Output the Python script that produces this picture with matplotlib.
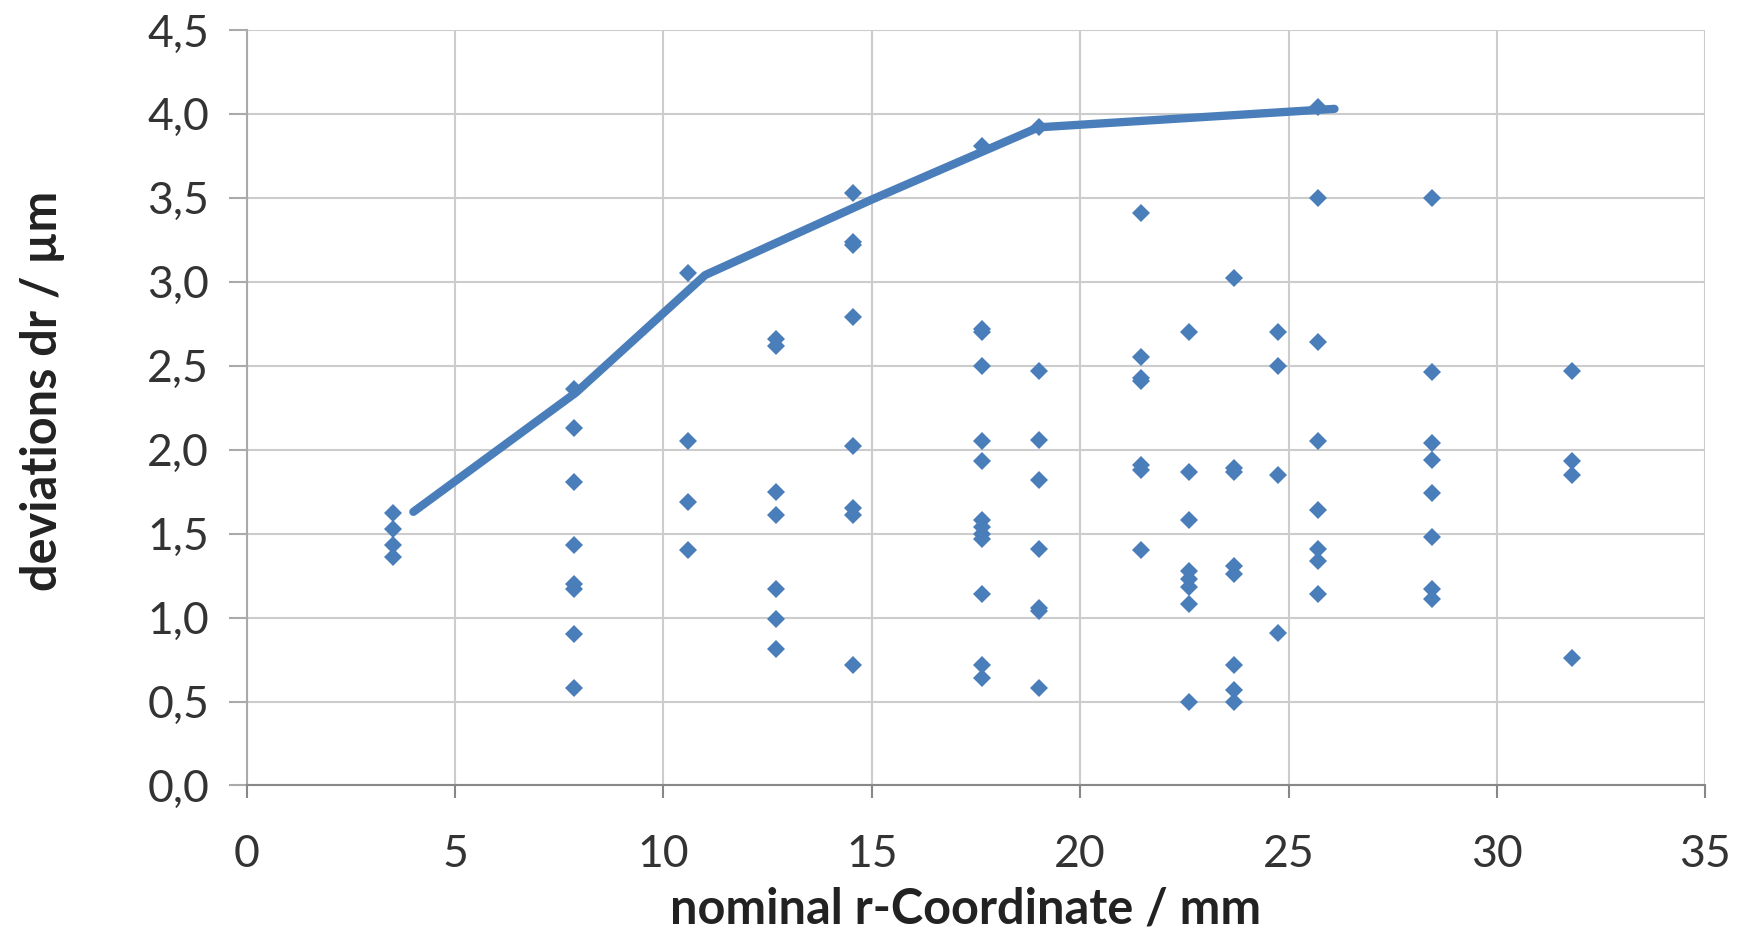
import numpy as np
import matplotlib.pyplot as plt

# measured deviations, grouped by nominal r position (mm)
r_cols = [3.5, 7.85, 10.6, 12.7, 14.55, 17.65, 19.0, 21.45, 22.6, 23.7, 24.75, 25.7, 28.45, 31.8]
dr_cols = [
    [1.62, 1.53, 1.43, 1.36],
    [2.36, 2.13, 1.81, 1.43, 1.20, 1.17, 0.90, 0.58],
    [3.05, 2.05, 1.69, 1.40],
    [2.66, 2.62, 1.75, 1.61, 1.17, 0.99, 0.81],
    [3.53, 3.24, 3.22, 2.79, 2.02, 1.65, 1.61, 0.72],
    [3.81, 2.72, 2.70, 2.50, 2.05, 1.93, 1.58, 1.54, 1.50, 1.47, 1.14, 0.72, 0.64],
    [3.92, 2.47, 2.06, 1.82, 1.41, 1.06, 1.04, 0.58],
    [3.41, 2.55, 2.43, 2.41, 1.91, 1.88, 1.40],
    [2.70, 1.87, 1.58, 1.28, 1.23, 1.18, 1.08, 0.50],
    [3.02, 1.89, 1.87, 1.31, 1.26, 0.72, 0.57, 0.50],
    [2.70, 2.50, 1.85, 0.91],
    [4.04, 3.50, 2.64, 2.05, 1.64, 1.41, 1.34, 1.14],
    [3.50, 2.46, 2.04, 1.94, 1.74, 1.48, 1.17, 1.11],
    [2.47, 1.93, 1.85, 0.76],
]

# upper envelope line
env_r = [4.0, 7.9, 11.0, 15.0, 19.0, 26.1]
env_dr = [1.63, 2.34, 3.04, 3.49, 3.92, 4.03]

x_ticks = [0, 5, 10, 15, 20, 25, 30, 35]
y_ticks = [0.0, 0.5, 1.0, 1.5, 2.0, 2.5, 3.0, 3.5, 4.0, 4.5]

blue = '#4A7EBB'
plt.rcParams['font.family'] = ['Lato', 'DejaVu Sans']

r_pts = np.concatenate([[r] * len(d) for r, d in zip(r_cols, dr_cols)])
dr_pts = np.concatenate(dr_cols)

fig = plt.figure(figsize=(17.42, 9.36), dpi=100)
ax = fig.add_axes([0.1416, 0.1608, 0.8374, 0.8072])

ax.plot(r_pts, dr_pts, linestyle='none', marker='D', markersize=9,
        color=blue, markeredgewidth=0, zorder=3)
ax.plot(env_r, env_dr, color=blue, linewidth=6, solid_capstyle='round',
        solid_joinstyle='round', zorder=4)

ax.set_xlim(0, 35)
ax.set_ylim(0, 4.5)
ax.set_xticks(x_ticks)
ax.set_yticks(y_ticks)
ax.set_xticklabels([str(t) for t in x_ticks])
ax.set_yticklabels([f'{t:.1f}'.replace('.', ',') for t in y_ticks])

ax.grid(True, color='#CCCCCC', linewidth=1.5)
ax.set_axisbelow(True)
for s in ['top', 'right']:
    ax.spines[s].set_visible(False)
ax.spines['left'].set_color('#AAAAAA')
ax.spines['bottom'].set_color('#888888')
ax.spines['left'].set_linewidth(1.5)
ax.spines['bottom'].set_linewidth(1.5)

ax.tick_params(axis='y', length=13, width=1.5, color='#AAAAAA', pad=14,
               labelsize=32, labelcolor='#333333')
ax.tick_params(axis='x', length=9, width=1.5, color='#888888', pad=26,
               labelsize=32, labelcolor='#333333')

ax.set_xlabel('nominal r-Coordinate / mm', fontsize=35, fontweight='bold', color='#222222')
ax.set_ylabel('deviations dr / µm', fontsize=35, fontweight='bold', color='#222222')
ax.xaxis.label.set_va('center')
ax.yaxis.label.set_va('center')
ax.xaxis.set_label_coords(0.493, -0.163)
ax.yaxis.set_label_coords(-0.140, 0.522)

fig.savefig('out.png', dpi=100)
